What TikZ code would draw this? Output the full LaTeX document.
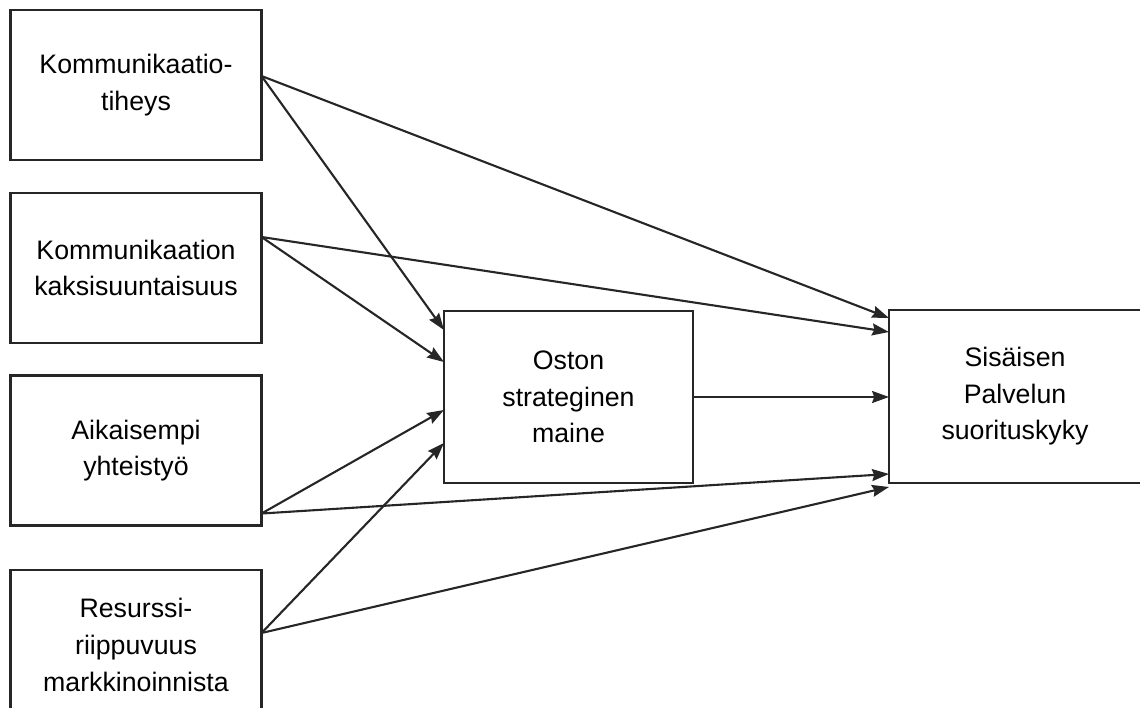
\documentclass[tikz,border=0pt]{standalone}
\usepackage{fontspec}
\setmainfont{Liberation Sans}
\usetikzlibrary{arrows.meta,calc,positioning}

\begin{document}
\begin{tikzpicture}[
  x=0.025cm, y=-0.025cm,
  mbox/.style  = {draw=black!85, fill=white, align=center,
                  line width=1.5pt, inner sep=0pt, outer sep=0pt,
                  minimum width=6.275cm, minimum height=3.75cm,
                  font=\fontsize{19}{26}\selectfont},
  arr/.style   = {-{Stealth[length=12pt,width=8.5pt,inset=1.5pt]},
                  line width=1.5pt, draw=black!85},
]
\useasboundingbox (0,0) rectangle (1140,708);
\clip (0,0) rectangle (1140,708);
% input factors
\node[mbox] (kt) at (136,85) {Kommunikaatio-\\tiheys};
\node[mbox] (kk) at (136,268) {Kommunikaation\\kaksisuuntaisuus};
\node[mbox] (ay) at (136,450.5) {Aikaisempi\\yhteisty\"o};
\node[mbox] (rm) at (136,645) {Resurssi-\\riippuvuus\\markkinoinnista};
% mediator and outcome
\node[mbox, minimum width=6.225cm, minimum height=4.3cm] (osm) at (568.5,397) {Oston\\strateginen\\maine};
\node[mbox, minimum width=6.3cm, minimum height=4.325cm] (psk) at (1015,396.5) {Sis\"aisen\\Palvelun\\suorituskyky};
% start points on the input boxes
\coordinate (kt-o) at ($(kt.east)+(0,-9)$);
\coordinate (kk-o) at ($(kk.east)+(0,-31)$);
\coordinate (ay-o) at ($(ay.south east)+(0,-12)$);
\coordinate (rm-o) at ($(rm.east)+(0,-12)$);
% end points on the mediator
\coordinate (osm-1) at ($(osm.west)+(0,-67)$);
\coordinate (osm-2) at ($(osm.west)+(0,-35)$);
\coordinate (osm-3) at ($(osm.west)+(0,13)$);
\coordinate (osm-4) at ($(osm.west)+(0,46)$);
% end points on the outcome
\coordinate (psk-1) at ($(psk.west)+(0,-78.5)$);
\coordinate (psk-2) at ($(psk.west)+(0,-64.5)$);
\coordinate (psk-4) at ($(psk.west)+(0,77.5)$);
\coordinate (psk-5) at ($(psk.west)+(0,90.5)$);
\draw[arr] (kt-o) -- (osm-1);
\draw[arr] (kk-o) -- (osm-2);
\draw[arr] (ay-o) -- (osm-3);
\draw[arr] (rm-o) -- (osm-4);
\draw[arr] (kt-o) -- (psk-1);
\draw[arr] (kk-o) -- (psk-2);
\draw[arr] (ay-o) -- (psk-4);
\draw[arr] (rm-o) -- (psk-5);
\draw[arr] (osm.east) -- (osm.east -| psk.west);
\end{tikzpicture}
\end{document}
